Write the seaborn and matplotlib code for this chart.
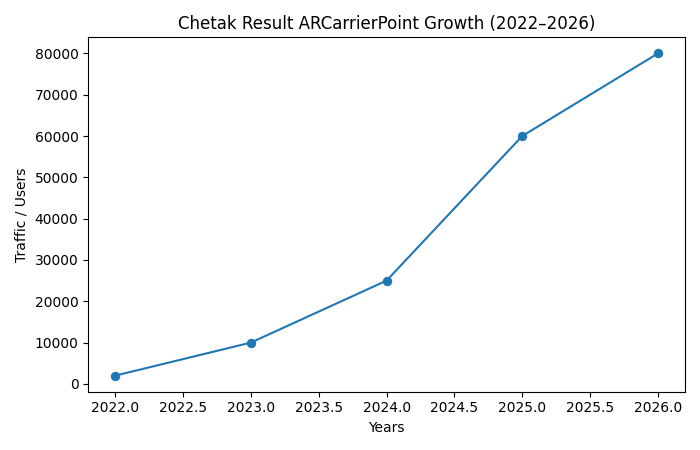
import matplotlib
matplotlib.use("Agg")
import matplotlib.pyplot as plt
import seaborn as sns
import pandas as pd

# Data
years = [2022, 2023, 2024, 2025, 2026]
users = [2000, 10000, 25000, 60000, 80000]

df = pd.DataFrame({"Years": years, "Traffic / Users": users})

fig, ax = plt.subplots(figsize=(7, 4.5), dpi=100)
sns.lineplot(data=df, x="Years", y="Traffic / Users", marker="o",
             color="#1f77b4", markeredgecolor="#1f77b4", markersize=6, ax=ax)
ax.set_title("Chetak Result ARCarrierPoint Growth (2022\u20132026)")
ax.set_xlabel("Years")
ax.set_ylabel("Traffic / Users")
fig.tight_layout()
fig.savefig("out.png")
plt.close(fig)
